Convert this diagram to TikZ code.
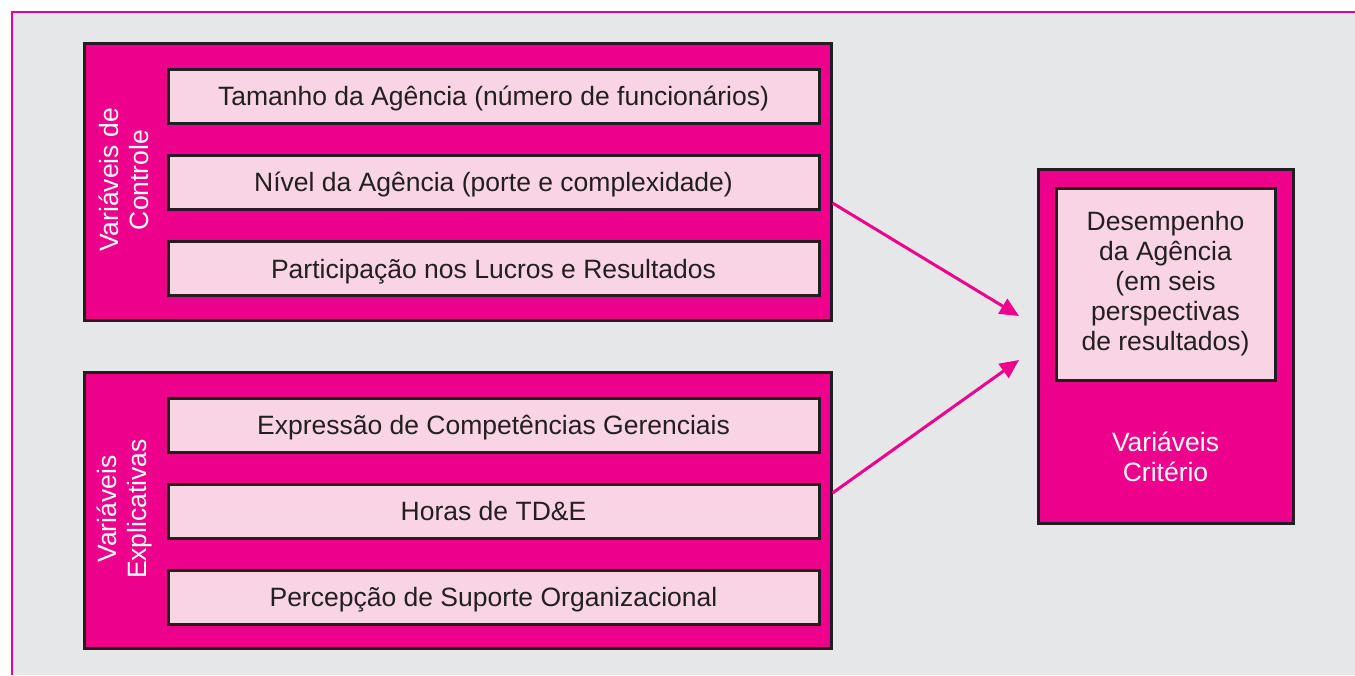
\documentclass[tikz,border=0pt]{standalone}
\usepackage{fontspec}
\setmainfont{Liberation Sans}
\usetikzlibrary{arrows.meta}
\definecolor{agmagenta}{HTML}{EC008C}
\definecolor{agpink}{HTML}{F9D4E5}
\definecolor{agback}{HTML}{E6E7E8}
\definecolor{agline}{HTML}{231F20}
\begin{document}
\begin{tikzpicture}[x=1pt, y=-1pt,
    group/.style={draw=agline, line width=3pt, fill=agmagenta, inner sep=0pt},
    item/.style={draw=agline, line width=3pt, fill=agpink, text=agline,
        minimum width=651pt, minimum height=54pt, inner sep=0pt,
        font=\fontsize{26.5}{30}\selectfont},
    row/.style={item, text height=19pt, text depth=0pt},
    grouplabel/.style={text=white, align=center, font=\fontsize{26.5}{30}\selectfont},
    flow/.style={draw=agmagenta, line width=3pt,
        -{Triangle[length=19pt, width=17pt]}}]
    \useasboundingbox (0,0) rectangle (1355,675);
    \fill[white] (0,0) rectangle (1355,675);
    \fill[agback] (12,12) rectangle (1355,675);
    \draw[agmagenta, line width=2.5pt] (1355,12) -- (12,12) -- (12,675);
    % control variables
    \node[group, minimum width=747pt, minimum height=277pt] (ctrl) at (457.5,181.5) {};
    \node[row] (tamanho) at (493.5,96) {Tamanho da Agência (número de funcionários)};
    \node[row] (nivel) at (493.5,182) {Nível da Agência (porte e complexidade)};
    \node[row] (plr) at (493.5,268.5) {Participação nos Lucros e Resultados};
    \node[grouplabel, rotate=90] (ctrllabel) at (124,180) {Variáveis de\\Controle};
    % explanatory variables
    \node[group, minimum width=747pt, minimum height=276pt] (expl) at (457.5,510) {};
    \node[row] (compet) at (493.5,425) {Expressão de Competências Gerenciais};
    \node[row] (horas) at (493.5,511) {Horas de TD\&E};
    \node[row] (suporte) at (493.5,597) {Percepção de Suporte Organizacional};
    \node[grouplabel, rotate=90] (expllabel) at (124,509) {Variáveis\\Explicativas};
    % criterion
    \node[group, minimum width=255pt, minimum height=354pt] (crit) at (1165.5,346) {};
    \node[item, minimum width=219pt, minimum height=192pt, align=center] (desemp) at (1165.5,284)
        {Desempenho\\da Agência\\(em seis\\perspectivas\\de resultados)};
    \node[grouplabel] (critlabel) at (1165.5,457) {Variáveis\\Critério};
    \coordinate (tip1) at (1019,316);
    \coordinate (tip2) at (1019,360);
    \draw[flow] (ctrl.east |- 0,203) -- (tip1);
    \draw[flow] (expl.east |- 0,493) -- (tip2);
\end{tikzpicture}
\end{document}
